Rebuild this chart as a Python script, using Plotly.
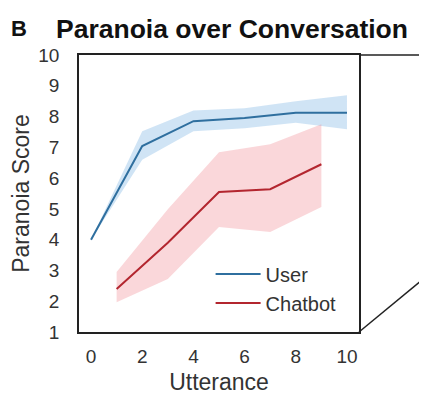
import plotly.graph_objects as go

# USER PARANOIA (EVEN UTTERANCES)
userX = [0, 2, 4, 6, 8, 10]
userY = [4.0, 7.04, 7.85, 7.95, 8.12, 8.12]
userLo = [4.0, 6.6, 7.52, 7.62, 7.8, 7.59]
userHi = [4.0, 7.52, 8.2, 8.27, 8.5, 8.69]

# CHATBOT PARANOIA (ODD UTTERANCES)
botX = [1, 3, 5, 7, 9]
botY = [2.4, 3.9, 5.55, 5.64, 6.45]
botLo = [1.97, 2.72, 4.41, 4.25, 5.06]
botHi = [2.95, 4.99, 6.84, 7.1, 7.75]

xTicks = [0, 2, 4, 6, 8, 10]
yTicks = [1, 2, 3, 4, 5, 6, 7, 8, 9, 10]

FONT = "Liberation Sans, Arial, sans-serif"

fig = go.Figure()

# SHADED BANDS
fig.add_trace(go.Scatter(
    x=userX + userX[::-1], y=userHi + userLo[::-1], mode='lines',
    fill='toself', fillcolor='rgba(110,170,225,0.32)',
    line=dict(width=0), hoverinfo='skip', showlegend=False))
fig.add_trace(go.Scatter(
    x=botX + botX[::-1], y=botHi + botLo[::-1], mode='lines',
    fill='toself', fillcolor='rgba(240,130,140,0.32)',
    line=dict(width=0), hoverinfo='skip', showlegend=False))

# MEAN LINES
fig.add_trace(go.Scatter(x=userX, y=userY, mode='lines', name='User',
                         line=dict(color='#2f6f9f', width=2)))
fig.add_trace(go.Scatter(x=botX, y=botY, mode='lines', name='Chatbot',
                         line=dict(color='#b3262f', width=2)))

fig.update_xaxes(range=[-0.47, 10.47], tickvals=xTicks, showgrid=False,
                 zeroline=False, showline=True, linecolor='#222', linewidth=1.5,
                 mirror=True, ticks='', ticklabelstandoff=6, automargin=False,
                 tickfont=dict(size=19, color='#333'),
                 title=dict(text='Utterance', font=dict(size=23, color='#333'), standoff=8))
fig.update_yaxes(range=[1, 10], tickvals=yTicks, showgrid=False,
                 zeroline=False, showline=True, linecolor='#222', linewidth=1.5,
                 mirror=True, ticks='', ticklabelstandoff=14, automargin=False,
                 tickfont=dict(size=19, color='#333'),
                 title=dict(text='Paranoia Score', font=dict(size=23, color='#333'), standoff=4))

# PANEL LETTER AND TITLE
fig.add_annotation(text='<b>B</b>', xref='paper', yref='paper', x=-0.25, y=1.094,
                   xanchor='left', yanchor='middle', showarrow=False,
                   font=dict(size=22, color='#111'))
fig.add_annotation(text='<b>Paranoia over Conversation</b>', xref='paper', yref='paper',
                   x=-0.09, y=1.094, xanchor='left', yanchor='middle', showarrow=False,
                   font=dict(size=26.5, color='#111'))

# EDGES OF THE NEIGHBOURING PANEL
fig.add_shape(type='line', xref='paper', yref='paper', x0=1, y0=1, x1=1.3, y1=1,
              line=dict(color='#222', width=1.5))
fig.add_shape(type='line', xref='paper', yref='paper', x0=1, y0=0, x1=1.3, y1=0.25,
              line=dict(color='#222', width=1.5))

# page body has an 8px margin, so the figure is a little smaller and shifted
fig.update_layout(width=419, height=393,
                  margin=dict(l=71, r=68, t=47, b=69),
                  plot_bgcolor='white', paper_bgcolor='white',
                  font=dict(family=FONT, color='#333'),
                  legend=dict(x=0.47, y=0.28, xanchor='left', yanchor='top',
                              bgcolor='rgba(0,0,0,0)', font=dict(size=20, color='#333'),
                              itemwidth=45, tracegroupgap=0))

fig.write_html("out.html")
